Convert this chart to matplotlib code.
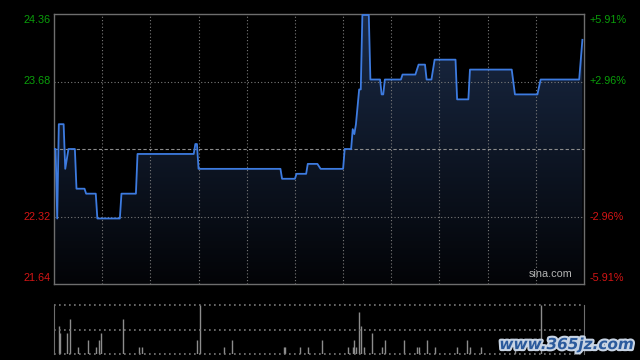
import numpy as np
import matplotlib
matplotlib.use("Agg")
import matplotlib.pyplot as plt
import matplotlib.patheffects as pe
from matplotlib.colors import LinearSegmentedColormap
from matplotlib.patches import Polygon

# intraday session: 330 trading minutes (09:30-12:00, 13:00-16:00)
session_minutes = 330
prev_close = 23.00
price_low, price_high = 21.64, 24.36

# price path, (minute, price) breakpoints
price_minutes = [0, 1, 2, 3, 6, 7, 9, 13, 14, 19, 20, 26, 27, 41, 42, 51, 52,
                 87, 88, 89, 90, 141, 142, 150, 151, 157, 158, 164, 166, 180,
                 181, 185, 186, 187, 188, 190, 191, 192, 196, 197, 203, 204,
                 205, 206, 216, 217, 225, 227, 231, 232, 235, 237, 250, 251,
                 258, 259, 285, 287, 301, 303, 327, 329]
price_values = [23.00, 23.00, 22.30, 23.25, 23.25, 22.80, 23.00, 23.00, 22.60,
                22.60, 22.55, 22.55, 22.30, 22.30, 22.55, 22.55, 22.95,
                22.95, 23.05, 23.05, 22.80, 22.80, 22.70, 22.70, 22.75, 22.75,
                22.85, 22.85, 22.80, 22.80,
                23.00, 23.00, 23.20, 23.15, 23.25, 23.60, 23.60, 24.35, 24.35,
                23.70, 23.70, 23.55, 23.55, 23.70, 23.70, 23.75, 23.75, 23.85,
                23.85, 23.70, 23.70, 23.90, 23.90, 23.50, 23.50, 23.80, 23.80,
                23.55, 23.55, 23.70, 23.70, 24.10]

# volume (relative units)
vol_minutes = [3, 4, 8, 10, 15, 21, 26, 28, 29, 43, 53, 55, 89, 91, 106, 111,
               143, 144, 153, 158, 167, 183, 186, 187, 188, 190, 191, 193, 198,
               204, 206, 218, 226, 227, 232, 237, 251, 257, 259, 266, 287, 303]
vol_values = [4, 3, 3, 5, 1, 2, 1, 2, 3, 5, 1, 1, 2, 7, 1, 2,
              1, 1, 1, 1, 2, 1, 1, 2, 1, 6, 4, 1, 3,
              1, 2, 2, 1, 1, 2, 1, 1, 2, 1, 1, 1, 7]

left_ticks = [24.36, 23.68, 22.32, 21.64]
right_labels = ["+5.91%", "+2.96%", "-2.96%", "-5.91%"]
label_offsets = [-6, 0, 0, 6]

green = "#0a9e0a"
red = "#d41515"
grid_col = "#7a7a7a"
frame_col = "#6e6e6e"
font = "Liberation Sans"

fig = plt.figure(figsize=(6.4, 3.6), dpi=100, facecolor="black")

# ---- price panel ----
ax = fig.add_axes([54 / 640, 76 / 360, 530 / 640, 270 / 360])
ax.set_facecolor("black")

verts = ([(price_minutes[0], price_low)]
         + list(zip(price_minutes, price_values))
         + [(price_minutes[-1], price_low)])
clip = Polygon(verts, closed=True, facecolor="none", edgecolor="none")
ax.add_patch(clip)
grad = np.linspace(1, 0, 256).reshape(-1, 1)
cmap = LinearSegmentedColormap.from_list("fade", ["#030407", "#1a2a46"])
im = ax.imshow(grad, extent=[0, session_minutes, price_low, price_high],
               aspect="auto", cmap=cmap, origin="upper", zorder=1)
im.set_clip_path(clip)

for m in range(30, session_minutes, 30):
    ax.axvline(m, color=grid_col, ls=(0, (1, 2)), lw=0.8, zorder=2)
for v in left_ticks[1:3]:
    ax.axhline(v, color=grid_col, ls=(0, (1, 2)), lw=0.8, zorder=2)
ax.axhline(prev_close, color="#8c8c8c", ls=(0, (3, 2)), lw=0.8, zorder=2)

ax.plot(price_minutes, price_values, color="#3d7be0", lw=1.3, zorder=3)

ax.set_xlim(0, session_minutes)
ax.set_ylim(price_low, price_high)
ax.set_xticks([])
ax.set_yticks([])
for s in ax.spines.values():
    s.set_color(frame_col)
    s.set_linewidth(1)

ytrans = ax.get_yaxis_transform()
for v, pct, dy in zip(left_ticks, right_labels, label_offsets):
    c = green if v > prev_close else red
    ax.annotate(f"{v:.2f}", xy=(-0.006, v), xycoords=ytrans,
                xytext=(0, dy), textcoords="offset pixels",
                ha="right", va="center", color=c, fontsize=7.8, family=font)
    ax.annotate(pct, xy=(1.011, v), xycoords=ytrans,
                xytext=(0, dy), textcoords="offset pixels",
                ha="left", va="center", color=c, fontsize=7.8, family=font)

ax.text(0.979, 0.02, "sina.com", transform=ax.transAxes, ha="right",
        va="bottom", color="#b4b4b4", fontsize=7.8, family=font)

# ---- volume panel ----
ax2 = fig.add_axes([54 / 640, 6 / 360, 530 / 640, 49 / 360])
ax2.set_facecolor("black")
ax2.vlines(vol_minutes, 0, vol_values, color="#8c8c8c", lw=1)
for v in [0, 3.5, 7]:
    ax2.axhline(v, color=grid_col, ls=(0, (1, 2)), lw=1.2, clip_on=False)
ax2.set_xlim(0, session_minutes)
ax2.set_ylim(0, 7)
ax2.set_xticks([])
ax2.set_yticks([])
ax2.spines["top"].set_visible(False)
ax2.spines["bottom"].set_visible(False)
for side in ["left", "right"]:
    ax2.spines[side].set_color(frame_col)

fig.text(0.99, 0.022, "www.365jz.com", ha="right", va="bottom",
         color="#2b5a9c", fontsize=11, fontweight="bold", fontstyle="italic",
         path_effects=[pe.withStroke(linewidth=3, foreground="#c8d4e4")])

fig.savefig("out.png", dpi=100, facecolor="black")
